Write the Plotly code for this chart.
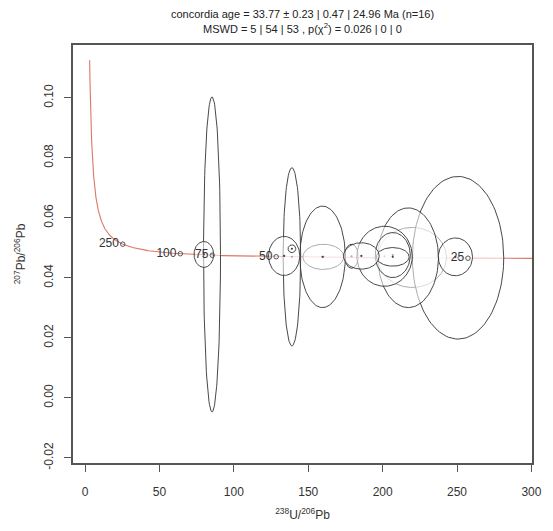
import numpy as np
import plotly.graph_objects as go

# ---- data ----
# ellipse centres, semi-axes (x in 238U/206Pb, y in 207Pb/206Pb), in drawing order
ell_x  = [219.9, 160.1, 179.1, 250.7, 217.2, 159.6, 201.3, 206.8, 206.8, 185.7, 248.9, 139.0, 85.3, 133.8, 139.0, 79.8]
ell_y  = [0.0468, 0.0470, 0.0472, 0.0467, 0.0467, 0.0470, 0.0472, 0.0476, 0.0470, 0.0473, 0.0470, 0.0470, 0.0478, 0.0473, 0.0497, 0.0478]
ell_sx = [23.0, 13.7, 4.6, 30.7, 20.3, 15.3, 18.6, 11.8, 11.0, 12.0, 11.5, 5.9, 5.7, 10.5, 2.6, 6.6]
ell_sy = [0.0100, 0.0042, 0.0040, 0.0271, 0.0166, 0.0169, 0.0100, 0.0075, 0.0031, 0.0044, 0.0063, 0.0297, 0.0525, 0.0065, 0.0013, 0.00432]

# concordia ages (Ma) for the curve and labelled ticks
curve_ages = [21.4, 22, 23, 25, 28, 32, 37, 43, 50, 60, 75, 90, 100, 120, 150, 180, 220, 250, 300,
              360, 430, 520, 620, 740, 880, 1030, 1200, 1380, 1560, 1720, 1840]
tick_ages = [250, 100, 75, 50, 25]

L238 = 1.55125e-10
L235 = 9.8485e-10
U85 = 137.818

def tw(t_ma):
    t = np.asarray(t_ma, dtype=float) * 1e6
    e8 = np.exp(L238 * t) - 1
    e5 = np.exp(L235 * t) - 1
    return 1 / e8, e5 / e8 / U85

fig = go.Figure()

# concordia line (dense parametrisation between listed ages)
ca = np.array(curve_ages)
cx, cy = tw(np.exp(np.interp(np.linspace(0, len(ca) - 1, 600), np.arange(len(ca)), np.log(ca))))
fig.add_trace(go.Scatter(x=cx, y=cy, mode="lines",
                         line=dict(color="rgba(210,85,65,0.8)", width=1.1),
                         hoverinfo="skip", showlegend=False))

theta = np.linspace(0, 2 * np.pi, 121)
for x0, y0, sx, sy in zip(ell_x, ell_y, ell_sx, ell_sy):
    fig.add_trace(go.Scatter(x=x0 + sx * np.cos(theta), y=y0 + sy * np.sin(theta),
                             mode="lines", fill="toself",
                             fillcolor="rgba(255,255,255,0.55)",
                             line=dict(color="#333", width=0.9),
                             hoverinfo="skip", showlegend=False))
    fig.add_trace(go.Scatter(x=[x0], y=[y0], mode="markers",
                             marker=dict(size=2.2, color="#444"),
                             hoverinfo="skip", showlegend=False))

tx, ty = tw(tick_ages)
fig.add_trace(go.Scatter(x=tx, y=ty, mode="markers+text",
                         marker=dict(symbol="circle-open", size=4.5, color="#555", line=dict(width=1)),
                         text=[str(a) for a in tick_ages], textposition="middle left",
                         textfont=dict(size=12, color="#333"),
                         hoverinfo="skip", showlegend=False))

font = "Liberation Sans, Arial, sans-serif"
fig.update_layout(
    width=553, height=531,
    margin=dict(l=73, r=11, t=45, b=67),
    paper_bgcolor="white", plot_bgcolor="white",
    font=dict(family=font, size=12, color="#333"),
    showlegend=False,
)
fig.update_xaxes(range=[-8.16, 300.4], tickvals=[0, 50, 100, 150, 200, 250, 300],
                 showgrid=False, zeroline=False, showline=True, mirror=True,
                 linecolor="#555", linewidth=1.5, ticks="outside", ticklen=7,
                 tickcolor="#555", ticklabelstandoff=10,
                 title=dict(text="<sup>238</sup>U/<sup>206</sup>Pb", standoff=12, font=dict(size=12)))
fig.update_yaxes(range=[-0.0217, 0.1176], tickvals=[-0.02, 0, 0.02, 0.04, 0.06, 0.08, 0.10],
                 ticktext=["-0.02", "0.00", "0.02", "0.04", "0.06", "0.08", "0.10"],
                 tickangle=-90,
                 showgrid=False, zeroline=False, showline=True, mirror=True,
                 linecolor="#555", linewidth=1.5, ticks="outside", ticklen=7,
                 tickcolor="#555", ticklabelstandoff=6,
                 title=dict(text="<sup>207</sup>Pb/<sup>206</sup>Pb", standoff=14, font=dict(size=12)))

fig.add_annotation(text="concordia age = 33.77 ± 0.23 | 0.47 | 24.96 Ma (n=16)",
                   xref="paper", yref="paper", x=0.5, y=1, yshift=31, showarrow=False,
                   font=dict(size=11, color="#222"), yanchor="middle")
fig.add_annotation(text="MSWD = 5 | 54 | 53 , p(χ<sup>2</sup>) = 0.026 | 0 | 0",
                   xref="paper", yref="paper", x=0.5, y=1, yshift=17, showarrow=False,
                   font=dict(size=11, color="#222"), yanchor="middle")

fig.write_html("out.html")
